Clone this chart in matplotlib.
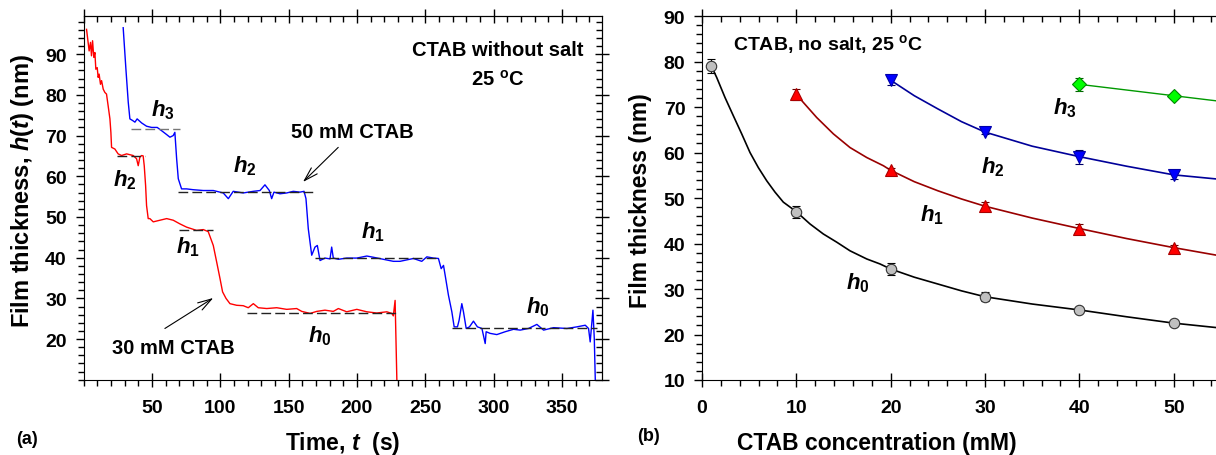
import numpy as np
import matplotlib.pyplot as plt
from matplotlib.ticker import MultipleLocator, NullFormatter

plt.rcParams["font.family"] = "Liberation Sans"
plt.rcParams["font.weight"] = "bold"
plt.rcParams["mathtext.fontset"] = "custom"
plt.rcParams["mathtext.rm"] = "Liberation Sans:bold"
plt.rcParams["mathtext.bf"] = "Liberation Sans:bold"
plt.rcParams["mathtext.it"] = "Liberation Sans:bold:italic"

# ---- panel (a): film thickness vs time ----
red_t = [2.2, 4.1, 5.1, 5.8, 6.6, 7.5, 8.3, 9.0, 10.0, 10.7, 11.4, 12.4, 13.2, 14.4,
         15.6, 16.8, 18.0, 19.3, 20.0, 20.5, 22.9, 25.3, 27.8, 31.5, 36.3, 38.8, 40.0,
         41.2, 42.5, 43.6, 44.4, 45.4, 46.1, 47.3, 48.5, 51.0, 55.9, 60.8, 65.6, 70.5,
         75.4, 82.7, 87.6, 91.2, 94.9, 97.4, 99.8, 101.7, 104.2, 107.1, 112.0, 116.8,
         120.5, 124.2, 127.8, 134.0, 141.3, 148.6, 155.9, 159.6, 165.7, 170.6, 176.6,
         182.7, 186.4, 192.5, 199.9, 207.2, 214.5, 221.8, 225.5, 226.6, 227.9, 229.1, 229.5]
red_h = [96.1, 90.8, 92.9, 89.6, 93.3, 89.2, 90.4, 86.3, 86.7, 84.3, 85.1, 82.6, 83.5, 81.4,
         80.6, 80.2, 77.3, 74.1, 70.8, 67.1, 66.7, 65.5, 65.1, 65.5, 65.1, 64.3, 62.6,
         64.7, 65.1, 65.0, 62.6, 57.7, 52.8, 49.6, 49.6, 48.8, 49.2, 49.6, 49.2, 48.3,
         47.5, 46.7, 46.9, 46.4, 43.0, 38.9, 34.9, 31.6, 30.0, 28.7, 28.3, 28.2,
         27.7, 28.7, 27.7, 27.5, 27.7, 27.3, 27.5, 26.8, 26.3, 26.8, 27.1,
         26.8, 27.5, 26.7, 27.3, 26.7, 26.4, 26.7, 26.3, 25.7, 29.5, 11.2, 5.0]

blue_t = [29.0, 31.0, 32.7, 33.9, 35.9, 37.6, 39.2, 42.5, 46.1, 49.8, 53.9, 57.1, 60.2,
          63.2, 65.6, 66.8, 68.1, 69.3, 71.7, 75.4, 80.2, 87.6, 94.9, 102.2, 105.9,
          109.5, 116.8, 124.2, 129.1, 132.7, 135.9, 137.6, 139.3, 143.7, 148.6, 153.4,
          158.3, 161.3, 162.7, 164.4, 166.9, 169.3, 171.0, 173.0, 176.6, 180.3, 181.5,
          182.7, 186.4, 192.5, 199.9, 207.2, 212.0, 219.3, 226.6, 231.5, 241.3, 247.4,
          251.1, 256.0, 259.6, 261.6, 263.3, 264.5, 266.9, 269.4, 271.1, 273.5, 274.7,
          276.7, 277.9, 279.9, 282.3, 285.2, 288.1, 291.4, 293.8, 294.5, 297.4, 302.3,
          308.4, 314.5, 319.4, 325.5, 331.6, 336.5, 343.8, 353.6, 360.9, 367.0, 369.4,
          370.6, 372.6, 373.6, 374.3, 374.6]
blue_h = [96.5, 86.3, 78.2, 74.1, 73.7, 73.3, 74.1, 73.1, 72.3, 72.0, 72.0, 71.2, 70.4,
          69.6, 70.0, 70.8, 64.3, 59.4, 56.9, 56.9, 56.7, 56.5, 56.5, 55.9, 54.5,
          56.3, 55.9, 56.3, 56.5, 57.9, 56.5, 54.5, 56.1, 55.7, 55.9, 56.3,
          56.1, 56.3, 54.5, 47.1, 40.6, 42.6, 43.0, 39.3, 39.9, 39.7, 42.6,
          39.9, 39.6, 39.9, 39.9, 40.4, 40.1, 39.6, 39.1, 39.1, 39.8, 39.1,
          40.2, 39.9, 39.8, 37.3, 38.1, 35.7, 30.8, 26.7, 23.0, 23.0, 24.6,
          28.7, 26.7, 22.6, 23.0, 24.4, 23.0, 22.6, 18.9, 21.8, 21.4, 21.1,
          21.8, 22.4, 22.2, 22.6, 23.6, 22.2, 22.8, 22.6, 23.0, 23.4, 22.6,
          19.3, 27.1, 20.1, 10.3, 5.0]

# plateau levels (t_start, t_end, h)
red_levels = [(24.6, 44.9, 65.1), (69.8, 94.9, 46.7), (119.3, 230.3, 26.5)]
blue_levels = [(34.6, 70.5, 71.6), (69.3, 169.3, 56.1), (169.3, 259.4, 39.9), (269.4, 375.5, 22.8)]

# ---- panel (b): thickness vs concentration ----
c0 = [1, 10, 20, 30, 40, 50]
h0 = [79.0, 47.0, 34.4, 28.3, 25.4, 22.5]
e0 = [1.5, 1.3, 1.3, 1.0, 0.5, 0.3]
c1 = [10, 20, 30, 40, 50]
h1 = [72.8, 56.1, 48.2, 43.3, 39.1]
e1 = [1.2, 0.6, 1.0, 1.0, 0.5]
c2 = [20, 30, 40, 50]
h2 = [75.9, 64.5, 59.0, 55.1]
e2 = [1.0, 0.5, 1.6, 0.9]
c3 = [40, 50]
h3 = [75.0, 72.5]
e3 = [1.5, 0.3]

# fitted curves
fit0_c = [1, 1.56, 2.44, 3.32, 4.21, 5.09, 5.97, 6.86, 7.74, 8.62, 10.0, 11.45, 12.86,
          14.28, 15.69, 17.47, 18.88, 20.0, 22.5, 25.0, 27.5, 30.0, 35.0, 40.0, 45.0,
          50.0, 56.0]
fit0_h = [79.0, 76.5, 72.1, 68.1, 64.1, 60.0, 56.7, 53.8, 51.3, 49.1, 47.0, 44.3, 42.1,
          40.3, 38.4, 36.6, 35.5, 34.4, 32.6, 31.1, 29.6, 28.3, 26.7, 25.4, 23.9,
          22.5, 21.2]
fit1_c = [10, 10.75, 12.16, 13.93, 15.69, 17.47, 19.23, 20.0, 22.5, 25.0, 27.5, 30.0,
          35.0, 40.0, 45.0, 50.0, 56.0]
fit1_h = [72.8, 71.0, 67.7, 64.1, 61.1, 58.9, 57.1, 56.1, 53.6, 51.6, 49.8, 48.2,
          45.6, 43.3, 41.1, 39.1, 36.9]
fit2_c = [20, 22.5, 25.0, 27.5, 30.0, 35.0, 40.0, 45.0, 50.0, 56.0]
fit2_h = [75.9, 72.5, 69.6, 66.8, 64.5, 61.4, 59.1, 57.0, 55.1, 53.9]
fit3_c = [40, 50, 56]
fit3_h = [75.0, 72.5, 71.0]

fig = plt.figure(figsize=(12.16, 4.56), dpi=100)


def style_ticks(ax, xmaj, xmin, ymaj, ymin, right=True):
    ax.xaxis.set_major_locator(MultipleLocator(xmaj))
    ax.xaxis.set_minor_locator(MultipleLocator(xmin))
    ax.yaxis.set_major_locator(MultipleLocator(ymaj))
    ax.yaxis.set_minor_locator(MultipleLocator(ymin))
    ax.tick_params(axis="x", which="major", direction="inout", length=10, width=1,
                   pad=9, labelsize=14)
    ax.tick_params(axis="x", which="minor", direction="out", length=4, width=1)
    ax.tick_params(axis="y", which="major", direction="out", length=6, width=1,
                   pad=6, labelsize=14)
    ax.tick_params(axis="y", which="minor", direction="out", length=4, width=1)
    top = ax.secondary_xaxis("top")
    top.xaxis.set_major_locator(MultipleLocator(xmaj))
    top.xaxis.set_minor_locator(MultipleLocator(xmin))
    top.xaxis.set_major_formatter(NullFormatter())
    top.tick_params(which="major", direction="inout", length=10, width=1)
    top.tick_params(which="minor", direction="in", length=4, width=1)
    if right:
        rt = ax.secondary_yaxis("right")
        rt.yaxis.set_major_locator(MultipleLocator(ymaj))
        rt.yaxis.set_minor_locator(MultipleLocator(ymin))
        rt.yaxis.set_major_formatter(NullFormatter())
        rt.tick_params(which="major", direction="inout", length=10, width=1)
        rt.tick_params(which="minor", direction="in", length=4, width=1)


# panel (a)
ax1 = fig.add_axes([0.0687, 0.165, 0.4261, 0.797])
ax1.plot(red_t, red_h, color="#ff0000", lw=1.0)
ax1.plot(blue_t, blue_h, color="#0000ff", lw=1.0)
for t0, t1, h in red_levels:
    ax1.plot([t0, t1], [h, h], color="#222222", lw=1.0, ls=(0, (7, 3)))
for i, (t0, t1, h) in enumerate(blue_levels):
    ax1.plot([t0, t1], [h, h], color="#777777" if i == 0 else "#222222", lw=1.0, ls=(0, (7, 3)))

ax1.set_xlim(0, 379)
ax1.set_ylim(10, 99.3)
style_ticks(ax1, 50, 10, 10, 2)
ax1.set_yticks([20, 30, 40, 50, 60, 70, 80, 90])
ax1.set_xticks([50, 100, 150, 200, 250, 300, 350])

arrow = dict(arrowstyle="->,head_length=1.0,head_width=0.3", lw=0.8, color="black",
             shrinkA=0, shrinkB=0)
ax1.annotate("", xy=(160.5, 58.6), xytext=(186.3, 67.1), arrowprops=arrow)
ax1.text(196.5, 71.1, "50 mM CTAB", ha="center", va="center", fontsize=14.5)
ax1.annotate("", xy=(94.9, 30.1), xytext=(59.5, 22.6), arrowprops=arrow)
ax1.text(65.4, 17.9, "30 mM CTAB", ha="center", va="center", fontsize=14.5)
ax1.text(303, 91.2, "CTAB without salt", ha="center", va="center", fontsize=14.5)
ax1.text(303, 83.9, r"25 $^{\rm o}$C", ha="center", va="center", fontsize=14.5)

for t, h, s in [(58, 76.5, "3"), (30.3, 59.4, "2"), (118, 62.6, "2"), (76.4, 42.7, "1"),
                (211.5, 46.4, "1"), (173, 21.0, "0"), (332.6, 28.0, "0")]:
    ax1.text(t, h, r"$h_{%s}$" % s, ha="center", va="center", fontsize=16)

fig.text(0.0185, 0.58, r"Film thickness, $h$($t$) (nm)", rotation=90,
         ha="center", va="center", fontsize=17)
fig.text(0.2817, 0.028, r"Time, $t$  (s)", ha="center", va="center", fontsize=16.5)
fig.text(0.0222, 0.037, "(a)", ha="center", va="center", fontsize=13)

# panel (b)
ax2 = fig.add_axes([0.5773, 0.1645, 0.4655, 0.798])
ax2.plot(fit0_c, fit0_h, color="black", lw=1.2)
ax2.plot(fit1_c, fit1_h, color="#990000", lw=1.2)
ax2.plot(fit2_c, fit2_h, color="#000099", lw=1.2)
ax2.plot(fit3_c, fit3_h, color="#009900", lw=1.0)
ax2.errorbar(c0, h0, yerr=e0, fmt="o", ms=7.5, mfc="#c0c0c0", mec="#333333", mew=0.8,
             ecolor="black", elinewidth=0.8, capsize=3, capthick=0.8)
ax2.errorbar(c1, h1, yerr=e1, fmt="^", ms=8, mfc="#ff0000", mec="#aa0000", mew=0.8,
             ecolor="#660000", elinewidth=0.8, capsize=3, capthick=0.8)
ax2.errorbar(c2, h2, yerr=e2, fmt="v", ms=8, mfc="#0000ff", mec="#0000aa", mew=0.8,
             ecolor="#000066", elinewidth=0.8, capsize=3, capthick=0.8)
ax2.errorbar(c3, h3, yerr=e3, fmt="D", ms=7, mfc="#00ff00", mec="#008800", mew=0.8,
             ecolor="#006600", elinewidth=0.8, capsize=3, capthick=0.8)

ax2.set_xlim(0, 60)
ax2.set_ylim(10, 90)
style_ticks(ax2, 10, 2, 10, 2, right=False)
ax2.set_xticks([0, 10, 20, 30, 40, 50])
ax2.text(3.3, 84, r"CTAB, no salt, 25 $^{\rm o}$C", ha="left", va="center", fontsize=14)
for c, h, s in [(16.5, 31.5, "0"), (24.4, 46.5, "1"), (30.8, 57.1, "2"), (38.5, 69.9, "3")]:
    ax2.text(c, h, r"$h_{%s}$" % s, ha="center", va="center", fontsize=16)

fig.text(0.527, 0.561, "Film thickness (nm)", rotation=90, ha="center", va="center",
         fontsize=16.5)
fig.text(0.721, 0.028, "CTAB concentration (mM)", ha="center", va="center", fontsize=16.5)
fig.text(0.533, 0.042, "(b)", ha="center", va="center", fontsize=13)

fig.savefig("out.png", dpi=100)
